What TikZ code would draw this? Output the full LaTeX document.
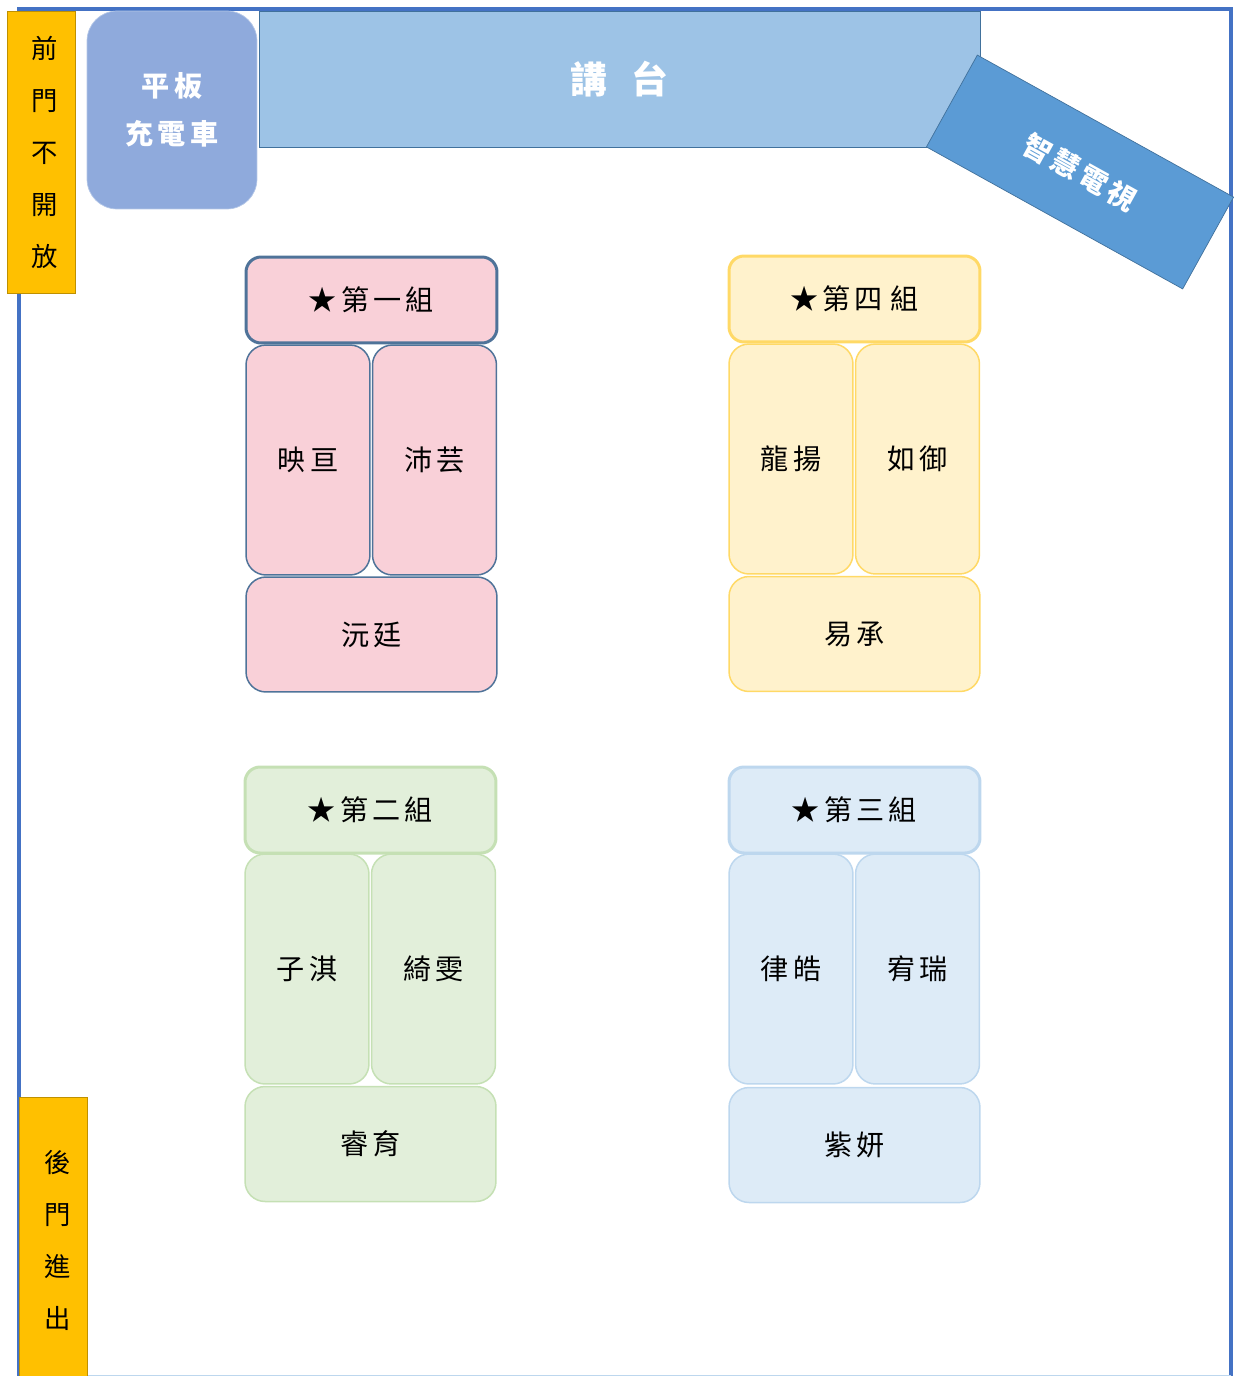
\documentclass[tikz,border=0pt]{standalone}
\usepackage{fontspec}
\newfontfamily\cjk[LetterSpace=15]{Noto Sans CJK TC}
\newfontfamily\cjkdoor{Noto Sans CJK TC}
\definecolor{wallblue}{HTML}{4472C4}
\definecolor{dooryellow}{HTML}{FFC000}
\definecolor{doorgold}{HTML}{BF9000}
\definecolor{cartfill}{HTML}{8FAADC}
\definecolor{cartline}{HTML}{B4C7E7}
\definecolor{deskfill}{HTML}{9DC3E6}
\definecolor{tvfill}{HTML}{5B9BD5}
\definecolor{darkline}{HTML}{41719C}
\definecolor{pinkfill}{HTML}{F9D0D8}
\definecolor{pinkline}{HTML}{4F7399}
\definecolor{yellowfill}{HTML}{FFF2CC}
\definecolor{yellowline}{HTML}{FFD966}
\definecolor{greenfill}{HTML}{E2EFDA}
\definecolor{greenline}{HTML}{C5E0B4}
\definecolor{bluefill}{HTML}{DDEBF7}
\definecolor{blueline}{HTML}{BDD7EE}
\begin{document}
\begin{tikzpicture}
  [x=0.02cm,y=-0.02cm,
   wall/.style={line width=0.09cm,draw=wallblue},
   door/.style={draw=doorgold,fill=dooryellow,minimum width=1.36cm,minimum height=5.64cm},
   doortext/.style={align=center,font=\cjkdoor\fontsize{15}{29.6}\selectfont},
   white/.style={text=white,font=\cjk\bfseries\fontsize{16}{27.3}\selectfont},
   head/.style={rounded corners=0.3cm,line width=0.06cm,minimum width=5.02cm,minimum height=1.72cm,
     font=\cjk\fontsize{16}{19}\selectfont},
   seat/.style={rounded corners=0.4cm,line width=0.03cm,minimum width=2.48cm,minimum height=4.6cm,
     font=\cjk\fontsize{16}{19}\selectfont},
   back/.style={rounded corners=0.4cm,line width=0.03cm,minimum width=5.02cm,minimum height=2.3cm,
     font=\cjk\fontsize{16}{19}\selectfont},
   pinkgrp/.style={draw=pinkline,fill=pinkfill},
   yellowgrp/.style={draw=yellowline,fill=yellowfill},
   greengrp/.style={draw=greenline,fill=greenfill},
   bluegrp/.style={draw=blueline,fill=bluefill}]
  \useasboundingbox (0,0) rectangle (1234,1376);
  % room
  \draw[wall] (19,1380) -- (19,9) -- (1231,9) -- (1231,1380);
  \draw[wall,line width=0.02cm,draw=blueline] (19,1375) -- (1231,1375);
  % doors
  \node[door] (front) at (41,152) {};
  \node[doortext] (fronttext) at (45,152) {前\\門\\不\\開\\放};
  \node[door] (rear) at (53,1238) {};
  \node[doortext] (reartext) at (58,1240) {後\\門\\進\\出};
  % front of the room
  \node[white,draw=cartline,fill=cartfill,rounded corners=0.6cm,minimum width=3.4cm,
    minimum height=3.96cm,align=center] (cart) at (172,110) {平板\\充電車};
  \node[white,draw=darkline,fill=deskfill,minimum width=14.42cm,minimum height=2.72cm,
    font=\cjk\bfseries\fontsize{21}{25}\selectfont] (desk) at (619.5,79) {講\hspace{0.5cm}台};
  \node[white,draw=darkline,fill=tvfill,minimum width=5.86cm,minimum height=2.1cm,
    rotate=-29] (tv) at (1080,172) {智慧電視};
  % group 1
  \node[head,pinkgrp] (g1) at (371.5,300) {★第一組};
  \node[seat,pinkgrp] (g1l) at (308,460) {映亘};
  \node[seat,pinkgrp] (g1r) at (434.5,460) {沛芸};
  \node[back,pinkgrp] (g1b) at (371.5,634.5) {沅廷};
  % group 4
  \node[head,yellowgrp] (g4) at (854.5,299) {★第四\hspace{0.15cm}組};
  \node[seat,yellowgrp] (g4l) at (791,459) {龍揚};
  \node[seat,yellowgrp] (g4r) at (917.5,459) {如御};
  \node[back,yellowgrp] (g4b) at (854.5,634) {易承};
  % group 2
  \node[head,greengrp] (g2) at (370.5,810) {★第二組};
  \node[seat,greengrp] (g2l) at (307,969) {子淇};
  \node[seat,greengrp] (g2r) at (433.5,969) {綺雯};
  \node[back,greengrp] (g2b) at (370.5,1144) {睿育};
  % group 3
  \node[head,bluegrp] (g3) at (854.5,810) {★第三組};
  \node[seat,bluegrp] (g3l) at (791,969) {律皓};
  \node[seat,bluegrp] (g3r) at (917.5,969) {宥瑞};
  \node[back,bluegrp] (g3b) at (854.5,1145) {紫妍};
\end{tikzpicture}
\end{document}
